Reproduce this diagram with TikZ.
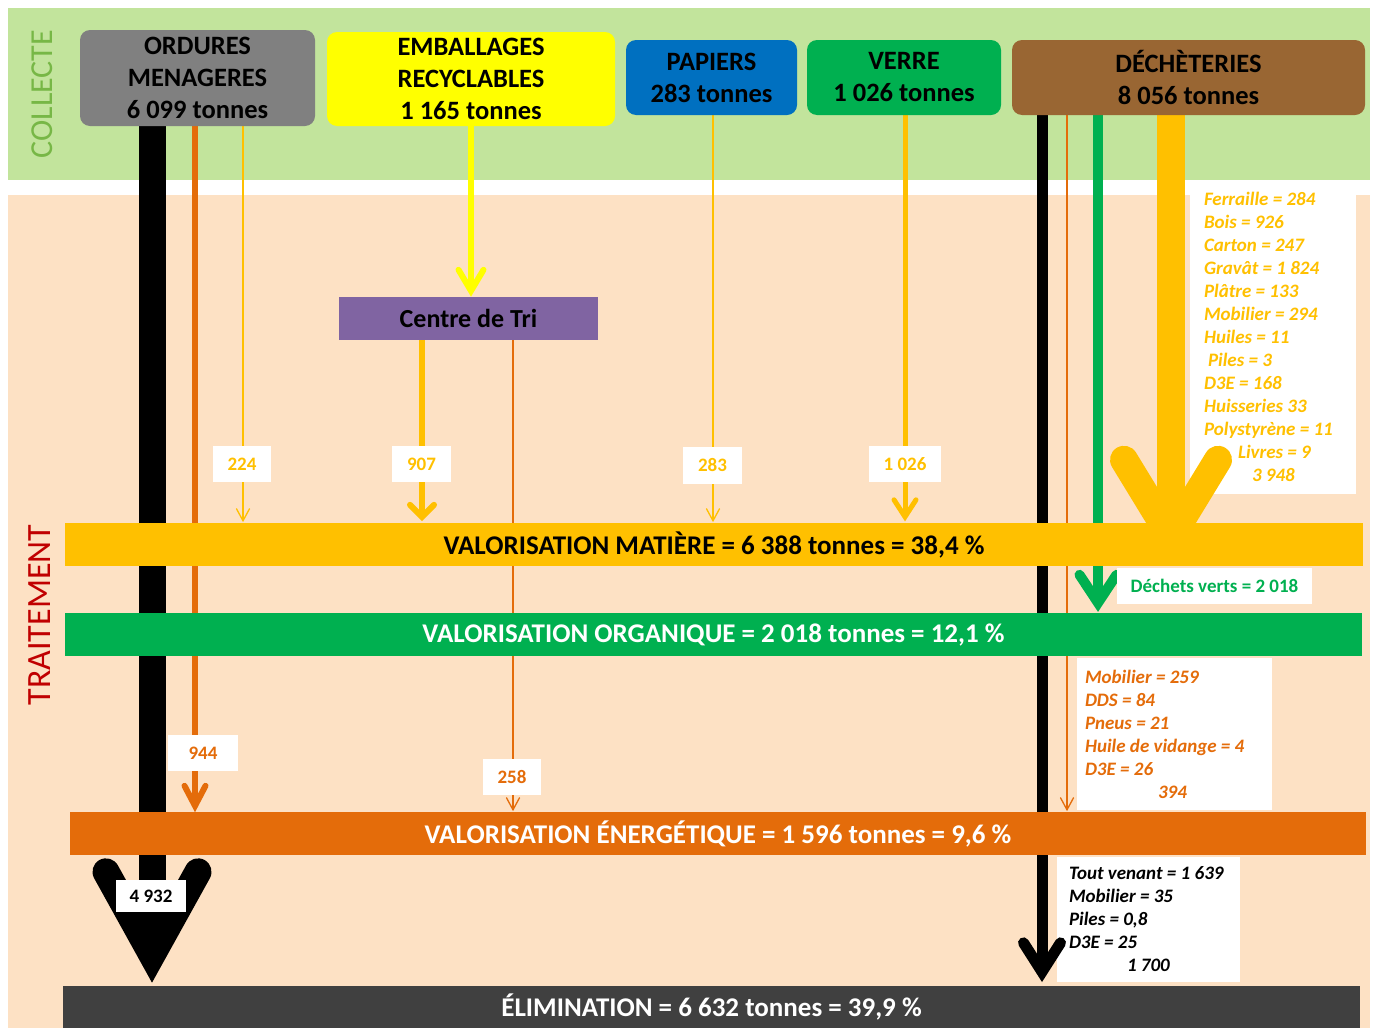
\documentclass[tikz,border=0pt]{standalone}
\usepackage{fontspec}
\setmainfont{Carlito}
\usetikzlibrary{calc}
\definecolor{collectefond}{RGB}{194,228,156}
\definecolor{traitfond}{RGB}{253,225,196}
\definecolor{collectetexte}{RGB}{119,183,70}
\definecolor{traittexte}{RGB}{192,0,0}
\definecolor{omgris}{RGB}{128,128,128}
\definecolor{embjaune}{RGB}{255,255,0}
\definecolor{papbleu}{RGB}{0,112,192}
\definecolor{vertvert}{RGB}{0,176,80}
\definecolor{dechbrun}{RGB}{153,102,51}
\definecolor{trivioler}{RGB}{128,100,162}
\definecolor{matjaune}{RGB}{255,192,0}
\definecolor{enorange}{RGB}{228,108,10}
\definecolor{elimgris}{RGB}{64,64,64}
\newcommand\flowhead[4]{\draw[#1,line cap=round,line join=miter] ($(#2)+(-#3,-#4)$) -- (#2) -- ($(#2)+(#3,-#4)$);}
\pgfdeclarelayer{fond}
\pgfdeclarelayer{flux}
\pgfsetlayers{fond,flux,main}
\begin{document}
\begin{tikzpicture}[x=1pt, y=-1pt,
  source/.style={rounded corners=10pt, align=center, inner sep=0pt, font=\fontsize{26.5}{32}\selectfont\bfseries},
  bande/.style={minimum width=1297pt, minimum height=43pt, inner sep=0pt, font=\fontsize{27}{30}\selectfont\bfseries},
  etiquette/.style={fill=white, minimum width=58pt, minimum height=36pt, inner sep=0pt, font=\fontsize{19}{23}\selectfont\bfseries},
  boite/.style={fill=white, inner sep=0pt},
  liste/.style={align=left, inner sep=0pt, anchor=west, font=\fontsize{19}{23}\selectfont\bfseries\itshape},
  fil/.style={line width=1.3pt}]
\begin{pgfonlayer}{fond}
\fill[white] (0,0) rectangle (1375,1028);
\useasboundingbox (0,0) rectangle (1375,1028);
\fill[collectefond] (8,8) rectangle (1370,180);
\fill[traitfond] (8,195) rectangle (1370,1028);
\node[boite, minimum width=166pt, minimum height=314pt] (dechboite) at (1273,337) {};
\node[boite, minimum width=195pt, minimum height=152pt] (energieboite) at (1174.5,734) {};
\node[boite, minimum width=183pt, minimum height=125pt] (elimboite) at (1148.5,919.5) {};
\end{pgfonlayer}

\node[rotate=90, text=collectetexte, font=\fontsize{32}{36}\selectfont] (collecte) at (42,94) {COLLECTE};
\node[rotate=90, text=traittexte, font=\fontsize{34}{40}\selectfont] (traitement) at (40,615) {TRAITEMENT};

\node[source, fill=omgris, minimum width=235pt, minimum height=96pt] (om) at (197.5,78) {ORDURES\\MENAGERES\\6~099 tonnes};
\node[source, fill=embjaune, minimum width=288pt, minimum height=94pt] (emb) at (471,79) {EMBALLAGES\\RECYCLABLES\\1~165 tonnes};
\node[source, fill=papbleu, minimum width=171pt, minimum height=75pt] (pap) at (711.5,77.5) {PAPIERS\\283 tonnes};
\node[source, fill=vertvert, minimum width=194pt, minimum height=75pt] (verre) at (904,77.5) {VERRE\\1~026 tonnes};
\node[source, fill=dechbrun, minimum width=353pt, minimum height=75pt] (dech) at (1188.5,77.5) {DÉCHÈTERIES\\8~056 tonnes};
\node[bande, fill=trivioler, minimum width=259pt, font=\fontsize{26}{30}\selectfont\bfseries] (tri) at (468.5,318.5) {Centre de Tri};

\node[bande, fill=matjaune, minimum width=1298pt] (matiere) at (714,544.5) {VALORISATION MATIÈRE = 6~388 tonnes = 38,4~\%};
\node[bande, fill=vertvert, text=white] (organique) at (713.5,634.5) {VALORISATION ORGANIQUE = 2~018 tonnes = 12,1~\%};
\node[bande, fill=enorange, text=white, minimum width=1296pt] (energie) at (718,833.5) {VALORISATION ÉNERGÉTIQUE = 1~596 tonnes = 9,6~\%};
\node[bande, fill=elimgris, text=white, minimum height=42pt] (elim) at (711.5,1007) {ÉLIMINATION = 6~632 tonnes = 39,9~\%};

\begin{pgfonlayer}{flux}
\draw[line width=27pt] ([xshift=-45.5pt]om.south) coordinate (omnoir) -- ($(omnoir |- elim.north)+(0,-31)$) coordinate (omnoirv);
\flowhead{line width=27pt}{omnoirv}{46}{83}
\draw[enorange, line width=6pt] ([xshift=-2.5pt]om.south) coordinate (omorange) -- ($(omorange |- energie.north)+(0,-6)$) coordinate (omorangev);
\flowhead{enorange, line width=6pt}{omorangev}{10.5}{20}
\draw[matjaune, fil] ([xshift=45.5pt]om.south) coordinate (omjaune) -- ($(omjaune |- matiere.north)+(0,-2)$) coordinate (omjaunev);
\flowhead{matjaune, fil}{omjaunev}{6.5}{12}
\draw[embjaune, line width=6pt] (emb.south) coordinate (embjaune) -- ($(embjaune |- tri.north)+(0,-6)$) coordinate (embjaunev);
\flowhead{embjaune, line width=6pt}{embjaunev}{12.5}{21}
\draw[matjaune, line width=6pt] ([xshift=-46.5pt]tri.south) coordinate (trijaune) -- ($(trijaune |- matiere.north)+(0,-6)$) coordinate (trijaunev);
\flowhead{matjaune, line width=6pt}{trijaunev}{12}{12}
\draw[enorange, fil] ([xshift=44.5pt]tri.south) coordinate (triorange) -- ($(triorange |- energie.north)+(0,-2)$) coordinate (triorangev);
\flowhead{enorange, fil}{triorangev}{6.5}{12}
\draw[matjaune, fil] ([xshift=1.5pt]pap.south) coordinate (papjaune) -- ($(papjaune |- matiere.north)+(0,-2)$) coordinate (papjaunev);
\flowhead{matjaune, fil}{papjaunev}{6.5}{12}
\draw[matjaune, line width=5pt] ([xshift=1pt]verre.south) coordinate (verrejaune) -- ($(verrejaune |- matiere.north)+(0,-6)$) coordinate (verrejaunev);
\flowhead{matjaune, line width=5pt}{verrejaunev}{11}{17}
\draw[line width=11pt] ([xshift=-146.5pt]dech.south) coordinate (dechnoir) -- ($(dechnoir |- elim.north)+(0,-14)$) coordinate (dechnoirv);
\flowhead{line width=11pt}{dechnoirv}{18.5}{29}
\draw[enorange, fil] ([xshift=-121.5pt]dech.south) coordinate (dechorange) -- ($(dechorange |- energie.north)+(0,-2)$) coordinate (dechorangev);
\flowhead{enorange, fil}{dechorangev}{6.5}{12}
\draw[vertvert, line width=10pt] ([xshift=-90.5pt]dech.south) coordinate (dechvert) -- ($(dechvert |- organique.north)+(0,-10)$) coordinate (dechvertv);
\flowhead{vertvert, line width=10pt}{dechvertv}{18.5}{28}
\draw[matjaune, line width=28pt] ([xshift=-17.5pt]dech.south) coordinate (dechjaune) -- ($(dechjaune |- matiere.north)+(0,14)$) coordinate (dechjaunev);
\flowhead{matjaune, line width=28pt}{dechjaunev}{47}{77}
\end{pgfonlayer}

\node[etiquette, text=matjaune] (t224) at (242,464) {224};
\node[etiquette, text=matjaune, minimum width=59pt] (t907) at (421.5,464) {907};
\node[etiquette, text=matjaune, minimum width=59pt, minimum height=37pt] (t283) at (712.5,465) {283};
\node[etiquette, text=matjaune, minimum width=72pt] (t1026) at (905,464) {1~026};
\node[etiquette, text=enorange, minimum width=70pt] (t944) at (203,753) {944};
\node[etiquette, text=enorange] (t258) at (512,777) {258};
\node[etiquette, minimum width=70pt, minimum height=32pt] (t4932) at (151,896) {4~932};
\node[etiquette, text=vertvert, minimum width=195pt] (tverts) at (1214.5,586) {Déchets verts = 2~018};

\node[liste, text=matjaune] (dechtexte) at ([xshift=14pt]dechboite.west) {Ferraille = 284\\Bois = 926\\Carton = 247\\Gravât = 1~824\\Plâtre = 133\\Mobilier = 294\\Huiles = 11\\\hspace*{4pt}Piles = 3\\D3E = 168\\Huisseries 33\\Polystyrène = 11\\\hspace*{34pt}Livres = 9\\\hspace*{48pt}3~948};
\node[liste, text=enorange] (energietexte) at ([xshift=8pt]energieboite.west) {Mobilier = 259\\DDS = 84\\Pneus = 21\\Huile de vidange = 4\\D3E = 26\\\hspace*{73pt}394};
\node[liste] (elimtexte) at ([xshift=12pt]elimboite.west) {Tout venant = 1~639\\Mobilier = 35\\Piles = 0,8\\D3E = 25\\\hspace*{58pt}1~700};
\end{tikzpicture}
\end{document}
